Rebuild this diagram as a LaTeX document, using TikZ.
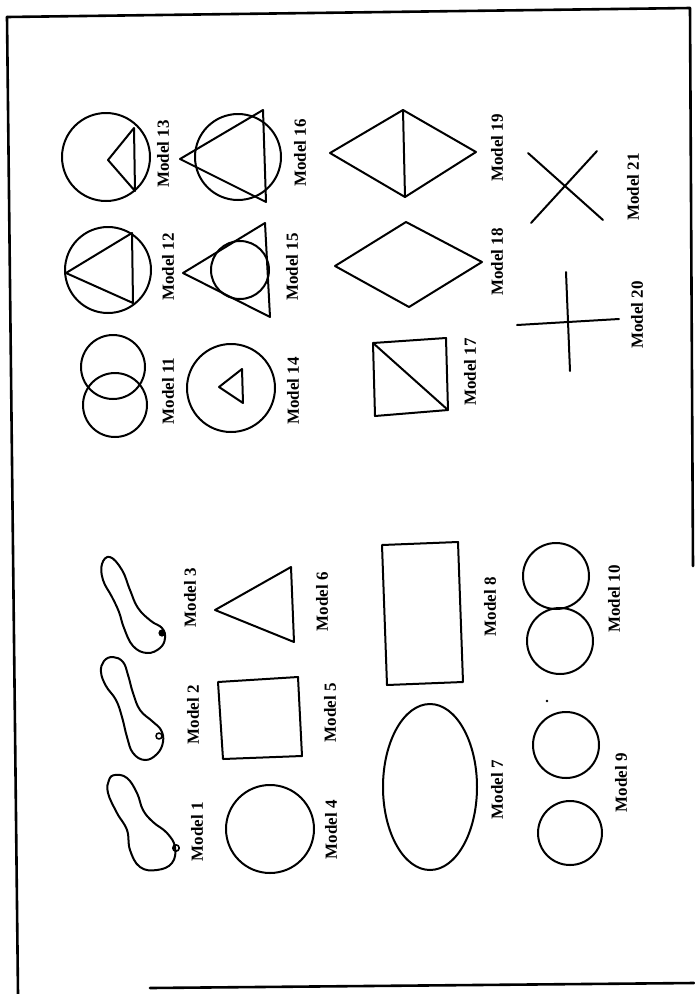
\documentclass[tikz,border=0pt]{standalone}
\usepackage{fontspec}
\setmainfont{Liberation Serif}
\usetikzlibrary{positioning}

\begin{document}
\begin{tikzpicture}[x=1pt,y=-1pt,line width=2pt,line cap=round,line join=round,
  modelname/.style={rotate=90,inner sep=0pt,font=\bfseries\fontsize{17}{17}\selectfont}]
  \useasboundingbox (0,0) rectangle (694,994);

  % Scanned frame, slightly skewed
  \draw[line width=2.6pt] (7,17)--(690,8)--(693,566);
  \draw[line width=2.6pt] (7,17)--(18,994);
  \draw[line width=2.6pt] (150,988)--(694,983);

  % Models 1-3: pin shaped outlines with a small ring
  \draw plot[smooth cycle,tension=.7] coordinates {(115,775) (127,778) (137,793) (143,810)
    (153,822) (167,833) (175,847) (172,863) (157,870) (140,867) (130,850) (127,830)
    (117,813) (108,793) (109,780)};
  \draw[line width=1.6pt] (176,848) circle[radius=3.2];
  \draw plot[smooth cycle,tension=.7] coordinates {(113,657) (123,662) (128,675) (133,693)
    (140,710) (152,721) (161,730) (163,742) (157,754) (145,760) (133,753) (127,737)
    (122,717) (116,700) (106,686) (101,672) (104,661)};
  \draw[line width=1.6pt] (159,736) circle[radius=3];
  \draw plot[smooth cycle,tension=.7] coordinates {(110,557) (122,570) (130,590) (138,608)
    (151,621) (162,628) (165,638) (160,648) (147,653) (133,646) (124,628) (119,612)
    (112,597) (103,580) (102,564)};
  \fill (162,633) circle[radius=3.6];
  \node[modelname] (m1) at (197,832) {Model 1};
  \node[modelname] (m2) at (193,715) {Model 2};
  \node[modelname] (m3) at (190,598) {Model 3};

  % Models 4-6
  \draw (270,829) circle[radius=44];
  \draw (218,682)--(298,677)--(302,756)--(223,759)--cycle;
  \draw (215,610)--(291,567)--(294,642)--cycle;
  \node[modelname] (m4) at (331,830) {Model 4};
  \node[modelname] (m5) at (330,713) {Model 5};
  \node[modelname] (m6) at (322,602) {Model 6};

  % Models 7 and 8
  \draw (430,787) ellipse[x radius=47,y radius=83];
  \draw (382,545)--(458,542)--(463,682)--(387,685)--cycle;
  \node[modelname] (m7) at (497,790) {Model 7};
  \node[modelname] (m8) at (490,607) {Model 8};

  % Models 9 and 10: pairs of circles
  \draw (566,745) circle[radius=33];
  \draw (570,833) circle[radius=32];
  \fill (547,701) circle[radius=1.3];
  \draw (556,576) circle[radius=33];
  \draw (560,641) circle[radius=33];
  \node[modelname] (m9) at (621,783) {Model 9};
  \node[modelname] (m10) at (614,599) {Model 10};

  % Models 11-13
  \draw (113,367) circle[radius=32];
  \draw (115,405) circle[radius=32];
  \draw (108,270) circle[radius=43];
  \draw (66,273)--(132,233)--(133,303)--cycle;
  \draw (106,157) circle[radius=44];
  \draw (108,160)--(134,128)--(135,191)--cycle;
  \node[modelname] (m11) at (168,391) {Model 11};
  \node[modelname] (m12) at (168,267) {Model 12};
  \node[modelname] (m13) at (163,154) {Model 13};

  % Models 14-16: circle and triangle
  \draw (231,388) circle[radius=44];
  \draw (219,387)--(242,369)--(243,403)--cycle;
  \draw (183,273)--(265,223)--(270,317)--cycle;
  \draw (240,270) circle[radius=29];
  \draw (238,157) circle[radius=43];
  \draw (180,159)--(263,110)--(266,202)--cycle;
  \node[modelname] (m14) at (293,391) {Model 14};
  \node[modelname] (m15) at (292,267) {Model 15};
  \node[modelname] (m16) at (300,153) {Model 16};

  % Models 17-19: square and rhombi
  \draw (373,343)--(446,338)--(448,410)--(375,416)--cycle;
  \draw (373,343)--(448,410);
  \draw (335,266)--(406,222)--(482,262)--(409,307)--cycle;
  \draw (330,153)--(403,110)--(476,152)--(405,197)--cycle;
  \draw (403,110)--(405,197);
  \node[modelname] (m17) at (470,372) {Model 17};
  \node[modelname] (m18) at (497,262) {Model 18};
  \node[modelname] (m19) at (497,148) {Model 19};

  % Models 20 and 21: crossed lines
  \draw (566,272)--(570,371);
  \draw (517,325)--(619,319);
  \draw (528,153)--(603,220);
  \draw (597,151)--(531,223);
  \node[modelname] (m20) at (637,315) {Model 20};
  \node[modelname] (m21) at (633,187) {Model 21};
\end{tikzpicture}
\end{document}
